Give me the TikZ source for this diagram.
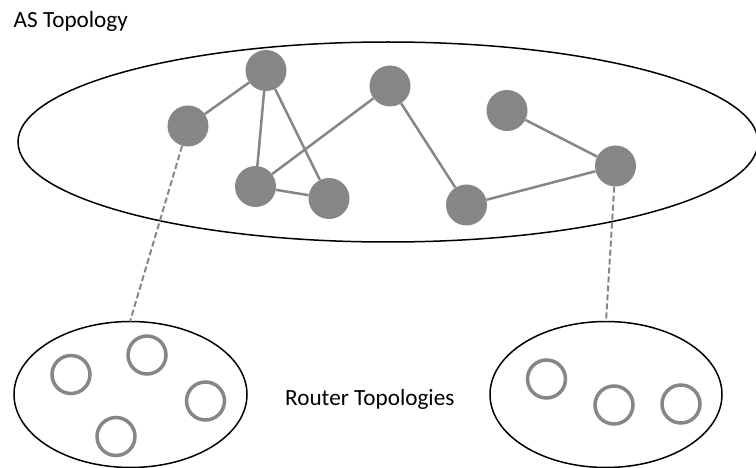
\documentclass[tikz,border=0pt]{standalone}
\usepackage{fontspec}
\setmainfont{Carlito}
\usetikzlibrary{backgrounds}
\definecolor{nodegray}{HTML}{868686}
\begin{document}
\begin{tikzpicture}[x=1pt,y=-1pt,
  asnode/.style={circle,fill=nodegray,minimum size=41pt,inner sep=0pt},
  router/.style={circle,draw=nodegray,line width=3.5pt,fill=white,minimum size=38pt,inner sep=0pt},
  link/.style={draw=nodegray,line width=2.5pt},
  mapline/.style={draw=nodegray,line width=2pt,dash pattern=on 6pt off 3pt},
  region/.style={draw=black,line width=1.5pt},
  label/.style={anchor=base west,font=\fontsize{23.2}{26}\selectfont,inner sep=0pt}]
\useasboundingbox (0,0) rectangle (756,468);
% outer AS-level region
\draw[region] (388,142) ellipse [x radius=370, y radius=100];
% router-level regions
\draw[region] (130.5,394.5) ellipse [x radius=116.5, y radius=73];
\draw[region] (606,394.5) ellipse [x radius=116, y radius=73];
\coordinate (lt) at (130,321.5);
\coordinate (rt) at (606,321.5);
% AS nodes
\node[asnode] (a) at (188,126) {};
\node[asnode] (b) at (266,70.5) {};
\node[asnode] (c) at (390,86) {};
\node[asnode] (d) at (507,110.5) {};
\node[asnode] (e) at (255.5,186.5) {};
\node[asnode] (f) at (329,198.5) {};
\node[asnode] (g) at (466.5,205) {};
\node[asnode] (h) at (615.5,166) {};
% AS links, kept beneath the nodes
\begin{scope}[on background layer]
\path[link] (a) -- (b) (b) -- (e) (b) -- (f) (e) -- (f) (e) -- (c)
  (c) -- (g) (g) -- (h) (d) -- (h);
\end{scope}
% mapping from AS nodes to router topologies
\path[mapline] (a) -- (lt);
\path[mapline] (h) -- (rt);
% routers
\node[router] (r1) at (71,374.5) {};
\node[router] (r2) at (147,355) {};
\node[router] (r3) at (205.5,401) {};
\node[router] (r4) at (116,436.5) {};
\node[router] (r5) at (546.5,379) {};
\node[router] (r6) at (614,405) {};
\node[router] (r7) at (681,404) {};
% labels
\node[label] (t1) at (13.5,28) {AS Topology};
\node[label] (t2) at (285,405.5) {Router Topologies};
\end{tikzpicture}
\end{document}
